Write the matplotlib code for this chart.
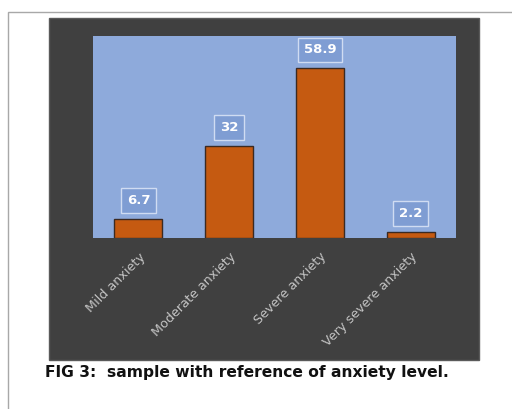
import matplotlib
matplotlib.use("Agg")
import matplotlib.pyplot as plt
from matplotlib.patches import Rectangle

categories = ["Mild anxiety", "Moderate anxiety", "Severe anxiety", "Very severe anxiety"]
values = [6.7, 32, 58.9, 2.2]
value_labels = ["6.7", "32", "58.9", "2.2"]
caption = "FIG 3:  sample with reference of anxiety level."

W, H = 512, 409
fig = plt.figure(figsize=(W / 100, H / 100), dpi=100)
fig.patch.set_facecolor("white")


def fx(px):
    return px / W


def fy(py):
    return 1 - py / H


# outer page border
fig.patches.append(Rectangle((fx(8), fy(430)), fx(520), 418 / H,
                             transform=fig.transFigure, fill=False,
                             edgecolor="#a8a8a8", linewidth=1.0, zorder=-2))
# dark chart area
fig.patches.append(Rectangle((fx(49), fy(360)), fx(430), 342 / H,
                             transform=fig.transFigure, facecolor="#404040",
                             edgecolor="#5a5a5a", linewidth=1.0, zorder=-1))

ax = fig.add_axes([fx(93), fy(238), fx(363), 202 / H])
ax.set_facecolor("#8eaadb")
x = range(len(categories))
bars = ax.bar(x, values, width=0.53, color="#c55a11", edgecolor="#3b2a22", linewidth=1.0)
ax.set_xlim(-0.5, 3.5)
ax.set_ylim(0, 70)
ax.set_yticks([])
ax.set_xticks(list(x))
ax.set_xticklabels(categories, rotation=45, ha="right", rotation_mode="anchor",
                   color="#c4c4c4", fontsize=9.2)
ax.tick_params(axis="x", length=0, pad=9)
for s in ax.spines.values():
    s.set_visible(False)

for xi, v, lab in zip(x, values, value_labels):
    ax.annotate(lab, (xi, v), xytext=(0, 13), textcoords="offset points",
                ha="center", va="center", color="white", fontsize=9.5, fontweight="bold",
                bbox=dict(boxstyle="square,pad=0.45", facecolor="#7f9dd3",
                          edgecolor="#d0dcf2", linewidth=1.0))

fig.text(fx(45), fy(372), caption, ha="left", va="center", fontsize=11.2,
         fontweight="bold", color="#111111")

fig.savefig("out.png", dpi=100)
